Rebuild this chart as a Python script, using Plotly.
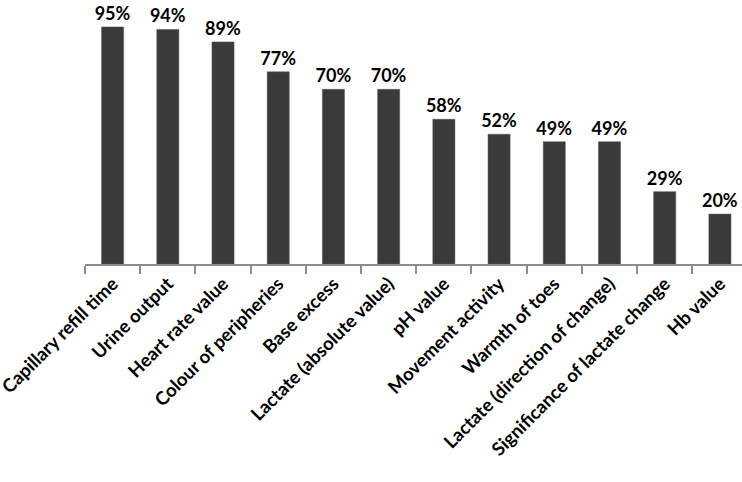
import plotly.graph_objects as go

categories = ["Capillary refill time", "Urine output", "Heart rate value", "Colour of peripheries",
              "Base excess", "Lactate (absolute value)", "pH value", "Movement activity",
              "Warmth of toes", "Lactate (direction of change)", "Significance of lactate change", "Hb value"]
values = [95, 94, 89, 77, 70, 70, 58, 52, 49, 49, 29, 20]

fig = go.Figure(go.Bar(
    x=categories, y=values,
    marker=dict(color="#3a3a3a", line=dict(color="#555555", width=0.5)),
    width=0.4,
    text=[f"{v}%" for v in values],
    textposition="outside",
    constraintext="none",
    textfont=dict(family="Lato", size=18, color="black", weight="bold"),
    cliponaxis=False,
))

fig.update_layout(
    width=742, height=482,
    margin=dict(l=85, r=0, t=2, b=218),
    plot_bgcolor="white", paper_bgcolor="white",
    showlegend=False,
    font=dict(family="Lato", color="black"),
    bargap=0.6,
)
fig.update_xaxes(
    type="category", range=[-0.5, 11.4], automargin=False,
    showline=True, linecolor="#8c8c8c", linewidth=1.5,
    ticks="outside", tickson="boundaries", ticklen=8, tickcolor="#8c8c8c", tickwidth=1.5,
    tickangle=-45, tickfont=dict(family="Lato", size=18.5, color="black", weight="bold"),
    showgrid=False,
)
fig.update_yaxes(range=[0, 105], visible=False, showgrid=False, zeroline=False, automargin=False)

fig.write_html("out.html", config={"displayModeBar": False},
               post_script="document.body.style.margin='0';")
